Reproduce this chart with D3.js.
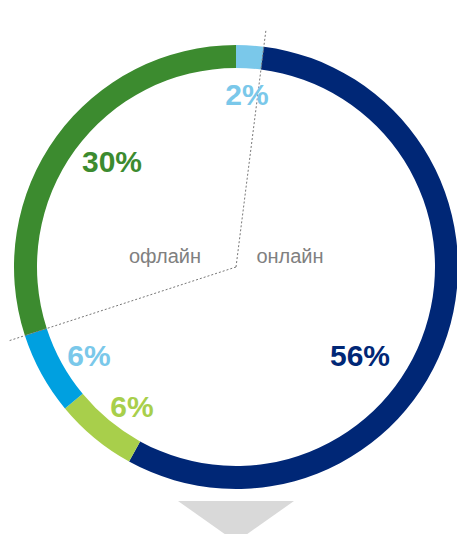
<!DOCTYPE html>
<html>
<head>
<meta charset="utf-8">
<script src="https://cdn.jsdelivr.net/npm/d3@7"></script>
<style>
  body { margin: 0; background: #fff; }
  svg { display: block; }
</style>
</head>
<body>
<svg width="457" height="534"></svg>
<script>
// segments, clockwise from 12 o'clock
const categories = ["online-light", "online-main", "online-green", "online-blue", "offline"];
const values = [2, 56, 6, 6, 30];
const labels = ["2%", "56%", "6%", "6%", "30%"];
const groupLabels = ["офлайн", "онлайн"];

const colors = ["#7ac8ea", "#002776", "#a8cf4b", "#00a0e0", "#3c8b2f"];
const labelColors = ["#7ac8ea", "#002776", "#a8cf4b", "#7ac8ea", "#3c8b2f"];
// label baseline positions relative to the ring centre (layout only)
const labelPos = [[11, -162], [124, 99], [-104, 150], [-147, 99], [-124, -95]];

const svg = d3.select("svg");
const cx = 236, cy = 267;
const outerR = 222, innerR = 199;

const g = svg.append("g").attr("transform", `translate(${cx}, ${cy})`);

const pie = d3.pie().sort(null).value(d => d)(values);
const arc = d3.arc().innerRadius(innerR).outerRadius(outerR);

g.selectAll("path.seg").data(pie)
  .enter().append("path")
    .attr("class", "seg")
    .attr("d", arc)
    .attr("fill", (d, i) => colors[i]);

// dashed dividers between online / offline
const dividers = [pie[0].endAngle, pie[3].endAngle];
g.selectAll("line.div").data(dividers)
  .enter().append("line")
    .attr("x1", 0).attr("y1", 0)
    .attr("x2", a => 238 * Math.sin(a))
    .attr("y2", a => -238 * Math.cos(a))
    .attr("stroke", "#777")
    .attr("stroke-width", 1)
    .attr("stroke-dasharray", "2,2");

g.selectAll("text.pct").data(pie)
  .enter().append("text")
    .attr("x", (d, i) => labelPos[i][0])
    .attr("y", (d, i) => labelPos[i][1])
    .attr("text-anchor", "middle")
    .attr("font-family", "Liberation Sans, Arial, sans-serif")
    .attr("font-weight", "bold")
    .attr("font-size", 30)
    .attr("fill", (d, i) => labelColors[i])
    .text((d, i) => labels[i]);

g.selectAll("text.grp").data(groupLabels)
  .enter().append("text")
    .attr("x", (d, i) => i === 0 ? -71 : 54)
    .attr("y", -4)
    .attr("text-anchor", "middle")
    .attr("font-family", "Liberation Sans, Arial, sans-serif")
    .attr("font-size", 20)
    .attr("fill", "#808080")
    .text(d => d);

// arrow below the ring
svg.append("polygon")
  .attr("points", `${cx - 58},501 ${cx + 58},501 ${cx},542`)
  .attr("fill", "#d9d9d9");
</script>
</body>
</html>
